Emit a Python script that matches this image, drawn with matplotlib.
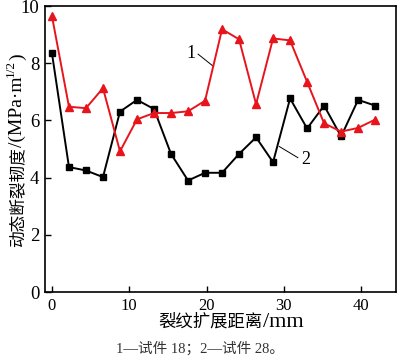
import matplotlib
matplotlib.use("Agg")
import matplotlib.pyplot as plt

plt.rcParams['font.family'] = ['Liberation Serif', 'Noto Sans CJK SC']

# crack extension distance (mm)
dist = [0, 2.2, 4.4, 6.6, 8.8, 11.0, 13.2, 15.4, 17.6, 19.8,
        22.0, 24.2, 26.4, 28.6, 30.8, 33.0, 35.2, 37.4, 39.6, 41.8]
# specimen 18
k_18 = [9.65, 6.48, 6.43, 7.13, 4.92, 6.04, 6.26, 6.26, 6.32, 6.69,
        9.19, 8.84, 6.57, 8.87, 8.80, 7.35, 5.90, 5.61, 5.74, 6.03]
# specimen 28
k_28 = [8.35, 4.37, 4.25, 4.02, 6.31, 6.72, 6.40, 4.83, 3.90, 4.17,
        4.17, 4.83, 5.41, 4.54, 6.77, 5.72, 6.52, 5.44, 6.72, 6.52]

x_ticks = [0, 10, 20, 30, 40]
y_ticks = [0, 2, 4, 6, 8, 10]

fig = plt.figure(figsize=(4.0, 3.59), dpi=100)
ax = fig.add_axes([0.1125, 0.1866, 0.8775, 0.7964])

ax.plot(dist, k_28, color='black', marker='s', markersize=4.5, linewidth=1.4, zorder=2)
ax.plot(dist, k_18, color='#e8141c', marker='^', markersize=5.5, linewidth=1.4, zorder=3)

# series labels with leader lines
ax.text(18.0, 8.33, '1', fontsize=13, ha='center', va='center')
ax.plot([18.9, 20.8], [8.32, 7.91], color='black', linewidth=0.7)
ax.text(32.8, 4.63, '2', fontsize=13, ha='center', va='center')
ax.plot([29.4, 31.8], [5.09, 4.70], color='black', linewidth=0.7)

ax.set_xlim(-0.9, 44.5)
ax.set_ylim(0, 10)
ax.set_xticks(x_ticks)
ax.set_yticks(y_ticks)
ax.tick_params(direction='in', length=4, width=1, pad=4)
ax.tick_params(axis='x', labelsize=12)
ax.tick_params(axis='y', labelsize=13.5)
for s in ax.spines.values():
    s.set_linewidth(1.2)

fig.canvas.draw()
r = fig.canvas.get_renderer()
W, H = fig.bbox.width, fig.bbox.height


def piece(x, y, s, size, rot=0):
    return fig.text(x / W, y / H, s, fontsize=size, rotation=rot,
                    rotation_mode='anchor', ha='left', va='baseline')


# x label: CJK part and the latin part set a bit larger, as in the source
xl_parts = [('裂纹扩展距离', 12.5), ('/mm', 16)]
widths = []
for s, f in xl_parts:
    tmp = piece(100, 100, s, f)
    widths.append(tmp.get_window_extent(r).width)
    tmp.remove()
px = 231 - sum(widths) / 2
for (s, f), w in zip(xl_parts, widths):
    piece(px, 359 - 327, s, f)
    px += w

# y label, rotated, built from pieces (CJK, latin, superscript)
bx, py = 22, 359 - 247
for s, f, dx in [('动态断裂韧度', 12, 0), ('/(MPa·m', 14, 0),
                 ('1/2', 9.5, -8), (')', 14, 0)]:
    t = piece(bx + dx, py, s, f, rot=90)
    py += t.get_window_extent(r).height

fig.text(0.5, (359 - 353) / H, '1—试件 18；2—试件 28。',
         fontsize=10.5, ha='center', va='baseline', color='#333333')

fig.savefig('out.png', dpi=100)
